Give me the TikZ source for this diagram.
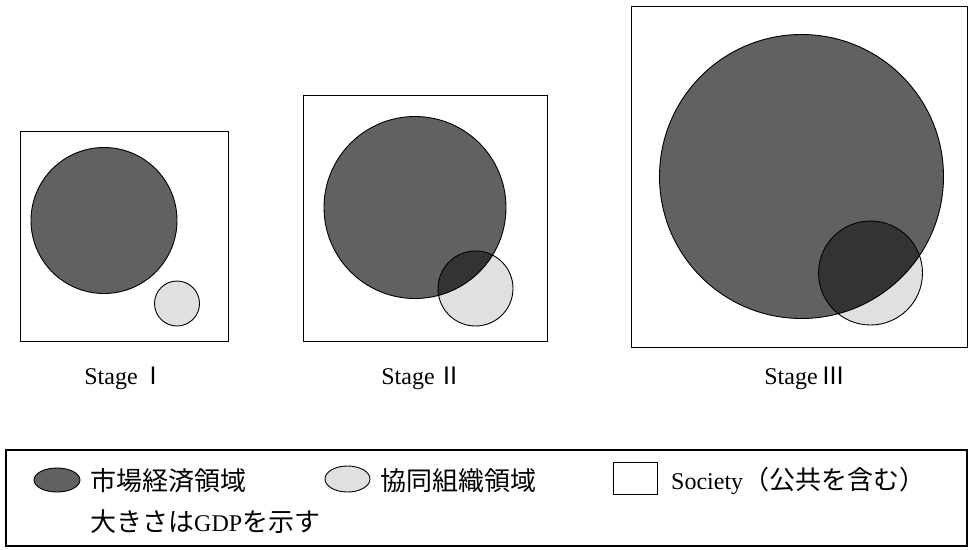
\documentclass[tikz,border=0pt]{standalone}
\usepackage{fontspec}
\setmainfont{Liberation Serif}
\newfontfamily\cjk{Noto Sans CJK JP}
\begin{document}
\begin{tikzpicture}[x=1pt,y=-1pt,
  box/.style={draw=black,line width=0.9pt},
  mkt/.style={fill=black!62},
  coop/.style={fill=black!12},
  both/.style={fill=black!80},
  rim/.style={draw=black,line width=0.9pt},
  stagelbl/.style={font=\fontsize{24}{28}\selectfont,inner sep=0pt},
  legtxt/.style={font=\fontsize{24}{28}\selectfont,inner sep=0pt,anchor=west},
  jp/.style={font=\fontsize{26}{30}\selectfont\cjk}]
\useasboundingbox (0,0) rectangle (969,549);
\fill[white] (0,0) rectangle (969,549);

% Stage I
\draw[box] (20,131) rectangle (228,341);
\path[mkt] (104,220.5) circle[radius=73];
\path[coop] (177,303.5) circle[radius=22.5];
\draw[rim] (104,220.5) circle[radius=73];
\draw[rim] (177,303.5) circle[radius=22.5];
\node[stagelbl] (s1) at (125,378) {Stage\,{\cjk Ⅰ}};

% Stage II
\draw[box] (303,95) rectangle (547,341);
\path[mkt] (415,207.5) circle[radius=91];
\path[coop] (475.5,288.5) circle[radius=37.5];
\begin{scope}
  \clip (475.5,288.5) circle[radius=37.5];
  \path[both] (415,207.5) circle[radius=91];
\end{scope}
\draw[rim] (415,207.5) circle[radius=91];
\draw[rim] (475.5,288.5) circle[radius=37.5];
\node[stagelbl] (s2) at (422,378) {Stage\,{\cjk Ⅱ}};

% Stage III
\draw[box] (631,6) rectangle (967,347);
\path[mkt] (801.5,176.5) circle[radius=142];
\path[coop] (870.5,273) circle[radius=52];
\begin{scope}
  \clip (870.5,273) circle[radius=52];
  \path[both] (801.5,176.5) circle[radius=142];
\end{scope}
\draw[rim] (801.5,176.5) circle[radius=142];
\draw[rim] (870.5,273) circle[radius=52];
\node[stagelbl] (s3) at (805,378) {Stage\,{\cjk Ⅲ}};

% Legend
\draw[line width=1.2pt] (6,450) rectangle (967,546);
\path[mkt] (57,480) ellipse[x radius=23,y radius=12];
\draw[rim] (57,480) ellipse[x radius=23,y radius=12];
\node[legtxt] (l1) at (90,481) {\cjk\fontsize{26}{30}\selectfont 市場経済領域};
\path[coop] (347.5,479) ellipse[x radius=22.5,y radius=13];
\draw[rim] (347.5,479) ellipse[x radius=22.5,y radius=13];
\node[legtxt] (l2) at (380,481) {\cjk\fontsize{26}{30}\selectfont 協同組織領域};
\draw[line width=0.8pt] (613,462) rectangle (657,494);
\node[legtxt] (l3) at (671,481) {Society{\cjk\fontsize{26}{30}\selectfont （公共を含む）}};
\node[legtxt] (l4) at (90,522) {{\cjk\fontsize{26}{30}\selectfont 大きさは}GDP{\cjk\fontsize{26}{30}\selectfont を示す}};
\end{tikzpicture}
\end{document}
